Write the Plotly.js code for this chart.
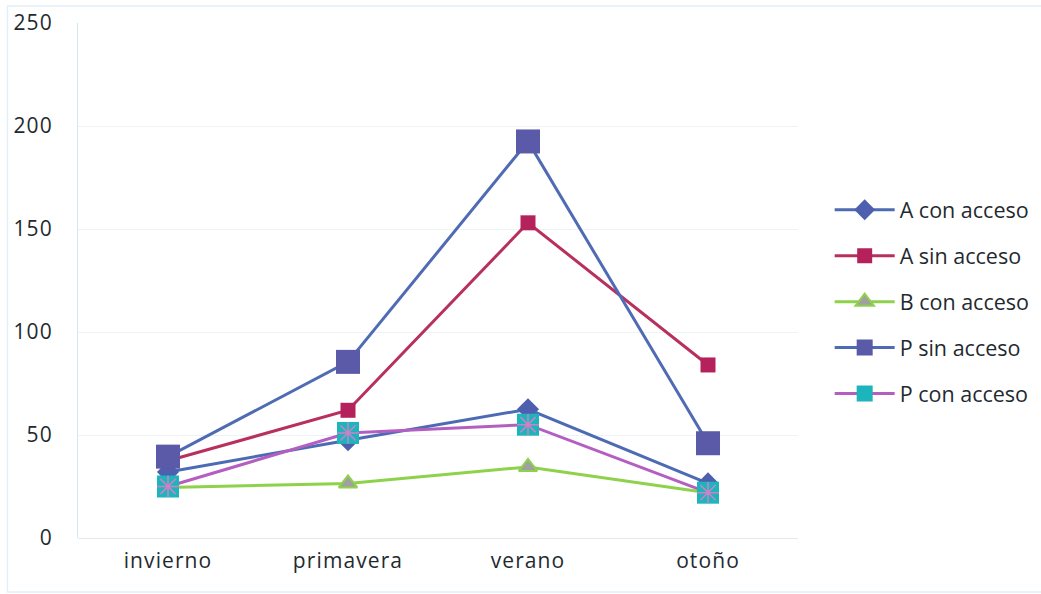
<!DOCTYPE html>
<html><head><meta charset="utf-8">
<script src="https://cdn.plot.ly/plotly-3.0.1.min.js"></script>
<style>
body{margin:0;background:#fff}#c{width:1041px;height:594px}
#c .xtick text, #c .ytick text {letter-spacing: 1.1px;}
</style>
</head><body><div id="c"></div>
<script>
var categories = ["invierno", "primavera", "verano", "otoño"];
var aConAcceso = [32, 47.5, 62.5, 26.5];
var aSinAcceso = [37.5, 62, 153, 84];
var bConAcceso = [24.5, 26.5, 34.5, 22];
var pSinAcceso = [39.5, 85.5, 192.5, 46];
var pConAcceso = [25, 51, 55, 22];
var seriesNames = ["A con acceso", "A sin acceso", "B con acceso", "P sin acceso", "P con acceso"];

var font = "Open Sans, Lato, sans-serif";
var traces = [
  {x: categories, y: aConAcceso, name: seriesNames[0], legendgroup: "g1", mode: "lines+markers",
   line: {color: "#4d6bb4", width: 3}, marker: {symbol: "diamond", size: 17, color: "#4d5fae"}},
  {x: categories, y: aSinAcceso, name: seriesNames[1], legendgroup: "g2", mode: "lines+markers",
   line: {color: "#b7305e", width: 3}, marker: {symbol: "square", size: 15, color: "#b5215a"}},
  {x: categories, y: bConAcceso, name: seriesNames[2], legendgroup: "g3", mode: "lines+markers",
   line: {color: "#8ed24b", width: 3}, marker: {symbol: "triangle-up", size: 16, color: "#a0a0a0", line: {color: "#8ed24b", width: 2}}},
  {x: categories, y: pSinAcceso, name: seriesNames[3], legendgroup: "g4", mode: "lines+markers",
   line: {color: "#4f6bb3", width: 3}, marker: {symbol: "square", size: 24, color: "#5b5aa8"}},
  {x: categories, y: pConAcceso, name: seriesNames[4], legendgroup: "g5", mode: "lines+markers",
   line: {color: "#b45ec2", width: 3}, marker: {symbol: "square", size: 22, color: "#1cb5bb"}},
  {x: categories, y: pConAcceso, name: seriesNames[4], legendgroup: "g5", showlegend: false, mode: "markers",
   marker: {symbol: "asterisk-open", size: 18, color: "#d27fc8", line: {color: "#d27fc8", width: 1.5}}, hoverinfo: "skip"}
];

var layout = {
  width: 1041, height: 594,
  margin: {l: 78, r: 243, t: 23, b: 56},
  paper_bgcolor: "#ffffff", plot_bgcolor: "#ffffff",
  font: {family: font, color: "#1f2a30", size: 20},
  showlegend: true,
  xaxis: {type: "category", range: [-0.5, 3.5], showgrid: false, zeroline: false,
    showline: false, ticks: "", tickfont: {size: 21, color: "#1f2a30"}, ticklabelstandoff: 8},
  yaxis: {range: [0, 250], dtick: 50, showgrid: true, gridcolor: "#eef3f8", gridwidth: 1,
    zeroline: true, zerolinecolor: "#e4e8ec", zerolinewidth: 1,
    showline: true, linecolor: "#d6e6f2", linewidth: 1, ticks: "",
    tickfont: {size: 21, color: "#1f2a30"}, ticklabelstandoff: 20},
  legend: {xref: "container", yref: "container", x: 0.797, xanchor: "left", y: 0.492, yanchor: "middle",
    font: {size: 21.5, color: "#1f2a30"},
    tracegroupgap: 15, itemwidth: 60, bgcolor: "rgba(0,0,0,0)"},
  shapes: [{type: "rect", xref: "paper", yref: "paper", x0: -0.098, x1: 1.35, y0: -0.105, y1: 1.033,
    line: {color: "#e3eef7", width: 1.5}, fillcolor: "rgba(0,0,0,0)", layer: "below"}]
};
Plotly.newPlot("c", traces, layout, {displayModeBar: false, staticPlot: true});
</script></body></html>
